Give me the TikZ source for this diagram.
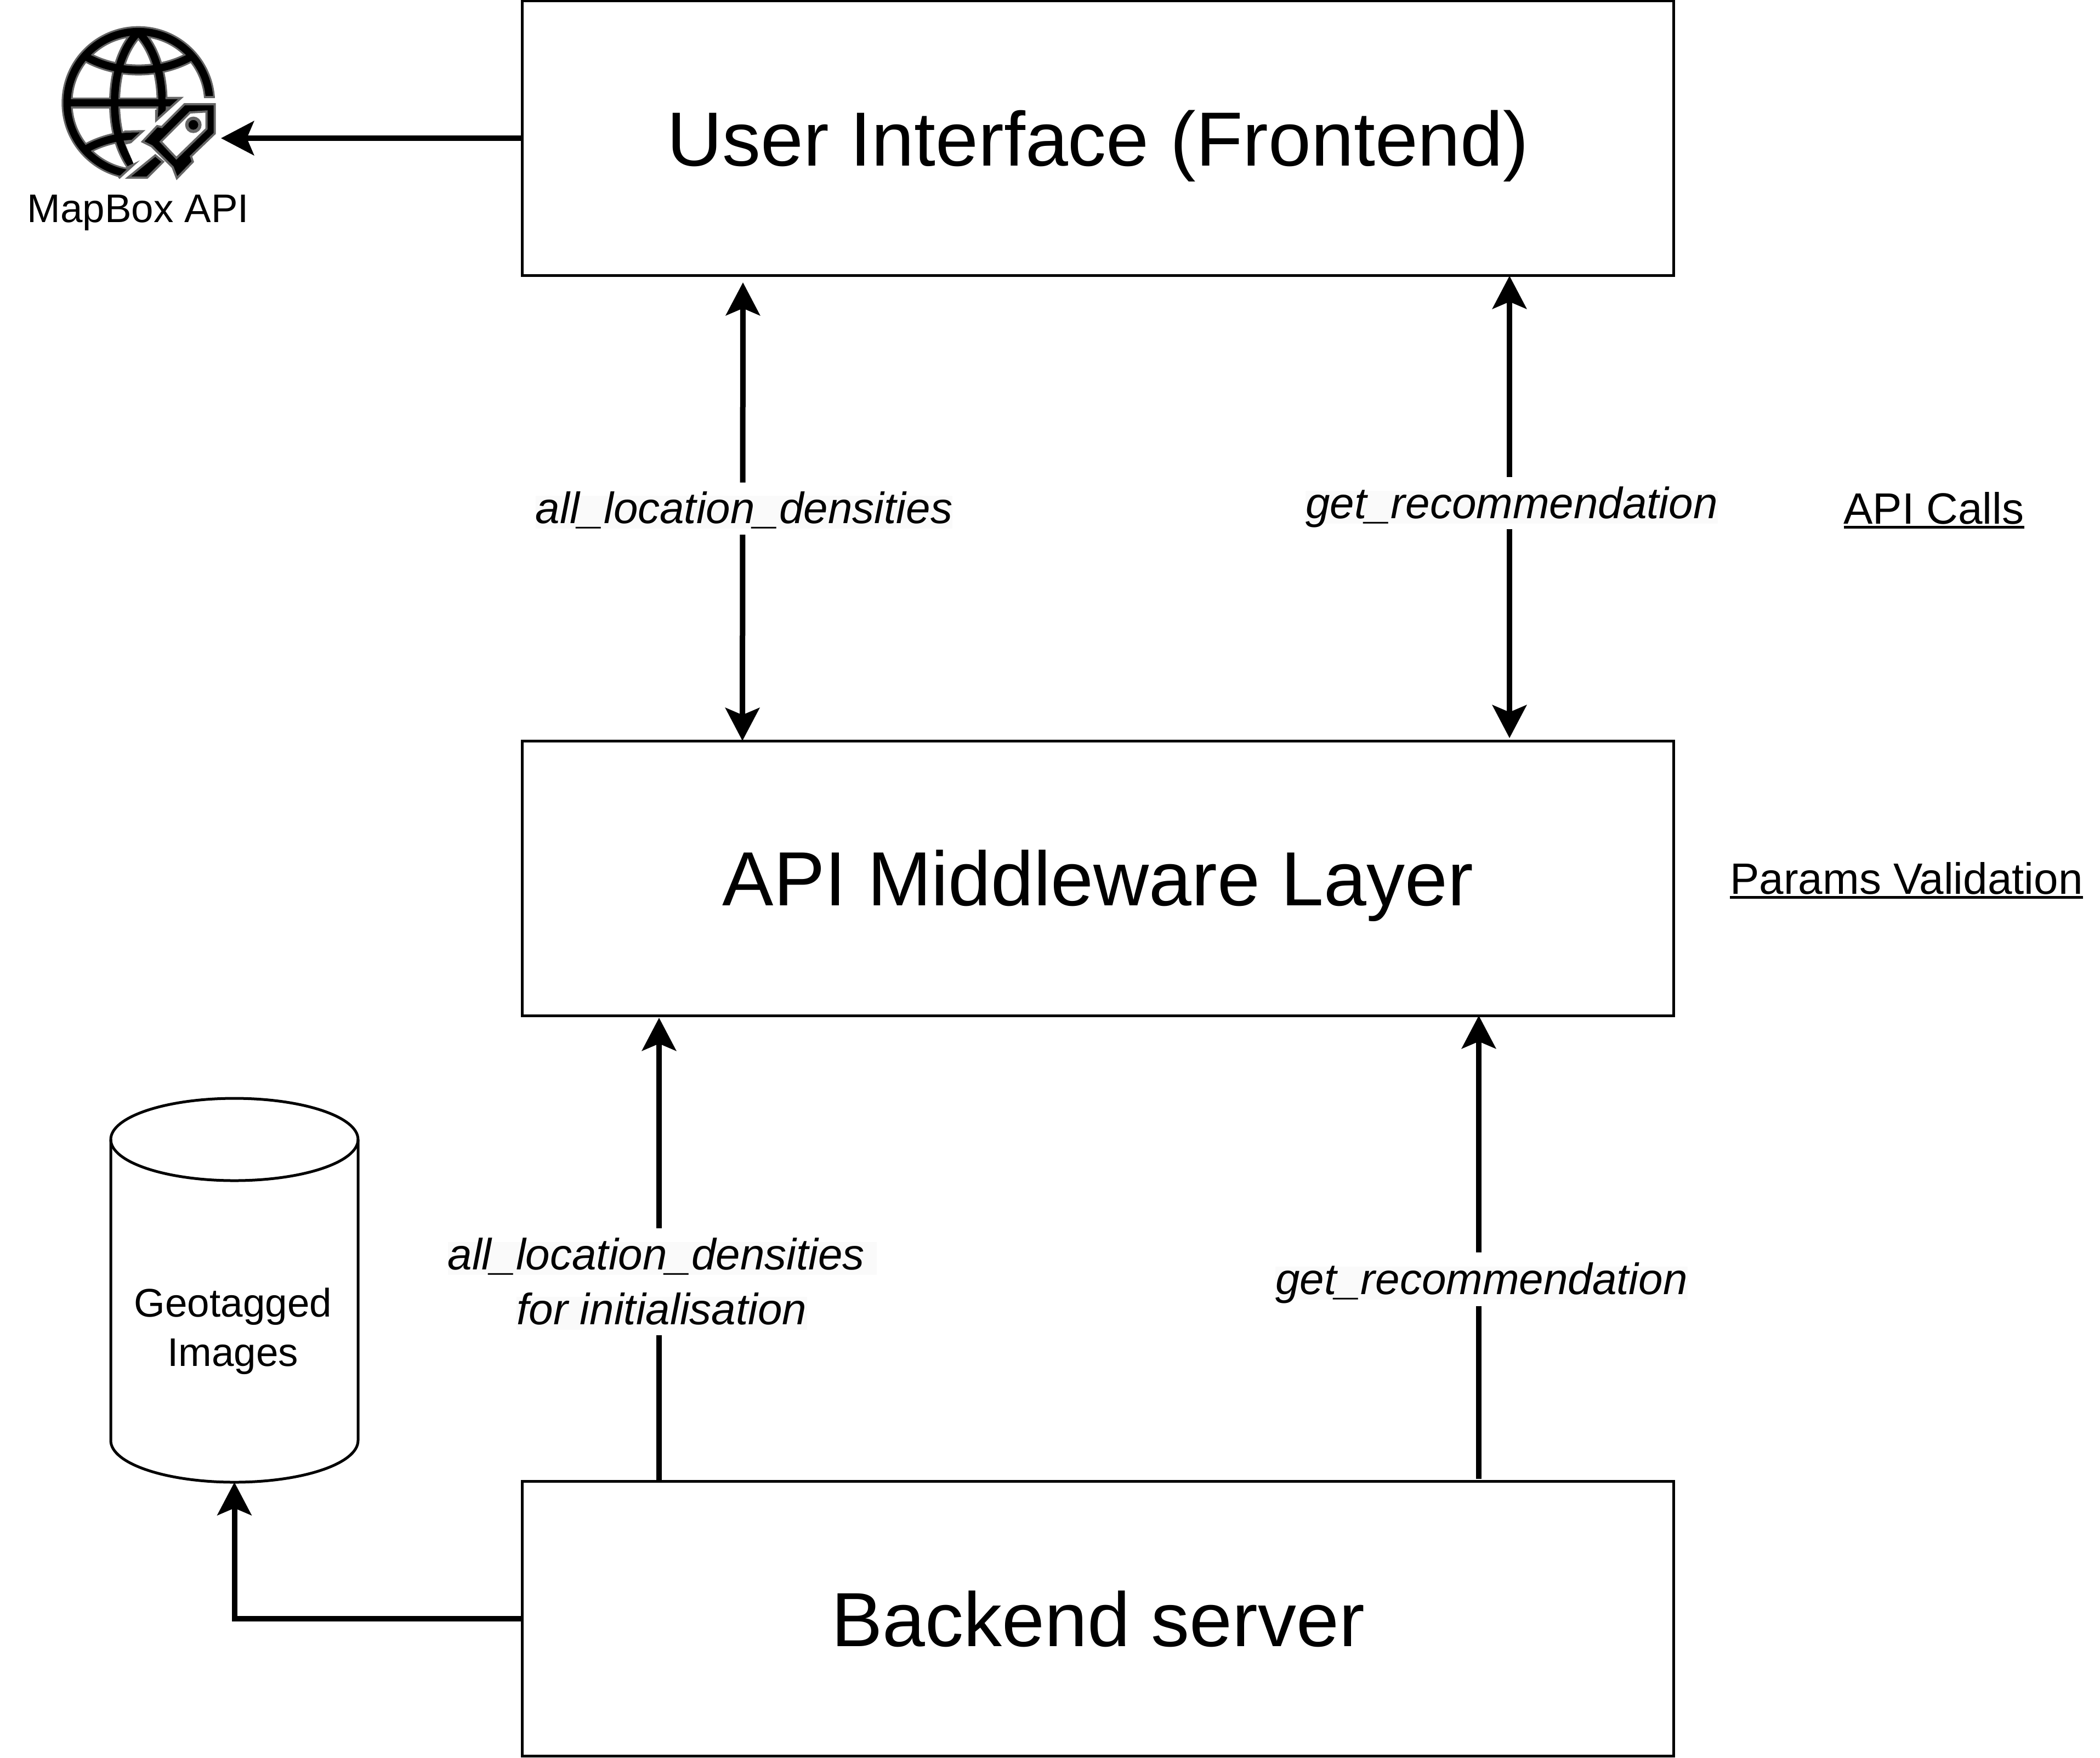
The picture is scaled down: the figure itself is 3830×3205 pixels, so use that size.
\documentclass[tikz,border=0pt]{standalone}
\usepackage{fontspec}
\setmainfont{Liberation Sans}
\usetikzlibrary{arrows.meta}
\definecolor{lblbg}{HTML}{FAFAFA}
\definecolor{icongray}{HTML}{666666}
\newsavebox{\ulsavebox}
\newcommand{\ulabel}[1]{\sbox{\ulsavebox}{#1}\rlap{\rule[-2.25pt]{\wd\ulsavebox}{1.25pt}}\usebox{\ulsavebox}}
\newcommand{\bgtext}[1]{{\setlength{\fboxsep}{0pt}\colorbox{lblbg}{\rule[-2.5pt]{0pt}{15pt}\smash{#1}}}}
\tikzset{
  layerbox/.style={draw=black,line width=1.25pt,fill=white,minimum width=525pt,minimum height=125.25pt,inner sep=0pt,text height=25pt,text depth=0pt,font=\fontsize{35}{40}\selectfont},
  conn/.style={line width=2.5pt,-{Stealth[length=15pt,width=15.5pt,inset=3.2pt]}},
  bothconn/.style={line width=2.5pt,{Stealth[length=15pt,width=15.5pt,inset=3.2pt]}-{Stealth[length=15pt,width=15.5pt,inset=3.2pt]}},
  edgelabel/.style={fill=white,inner sep=0pt,anchor=base,font=\fontsize{20}{25}\selectfont\itshape},
  sidelabel/.style={inner sep=0pt,anchor=base,font=\fontsize{20}{25}\selectfont},
  smalllabel/.style={inner sep=0pt,align=center,font=\fontsize{18.2}{22.5}\selectfont},
}
\begin{document}
\begin{tikzpicture}[x=0.25pt,y=-0.25pt]
\useasboundingbox (0,0) rectangle (3830,3205);
\node[layerbox] (ui) at (2002.5,252) {User Interface (Frontend)};
\node[layerbox] (mw) at (2002.5,1601.5) {API Middleware Layer};
\node[layerbox] (be) at (2002.5,2952) {Backend server};
% cylinder
\coordinate (cylbottom) at (427.5,2703);
\path[draw=black,line width=1.25pt,fill=white] (202,2078) -- (202,2627) arc[start angle=180,end angle=360,x radius=225.5,y radius=-76] -- (653,2078) arc[start angle=0,end angle=180,x radius=225.5,y radius=-75] -- cycle;
\path[draw=black,line width=1.25pt] (202,2078) arc[start angle=180,end angle=360,x radius=225.5,y radius=-75];
\node[smalllabel] (geo) at (425,2428) {Geotagged\\Images};
% icon
\begin{scope}[x=0.08333pt,y=-0.08333pt]
\begin{scope}
\clip (1200,20) -- (1200,534) -- (990,534) -- (855,655) -- (785,718) -- (715,778) -- (685,785) -- (732,900) -- (650,978) -- (250,1000) -- (250,20) -- cycle;
\foreach \col/\wid in {icongray/5pt,black/3.4pt}{
  \draw[\col,line width=\wid] (757,563) circle[radius=390];
  \draw[\col,line width=\wid] (370,563) -- (1000,563);
  \draw[\col,line width=\wid] (757,175) .. controls (860,280) and (887,440) .. (887,563) .. controls (887,690) and (860,840) .. (757,950);
  \draw[\col,line width=\wid] (757,175) .. controls (654,280) and (627,440) .. (627,563) .. controls (627,690) and (654,840) .. (757,950);
  \draw[\col,line width=\wid] (470,310) .. controls (640,407) and (875,407) .. (1045,310);
  \draw[\col,line width=\wid] (470,816) .. controls (640,719) and (875,719) .. (1045,816);
}
\end{scope}
\draw[icongray,line width=1pt] (1115,532) -- (1175,532);
\draw[icongray,line width=1pt] (905,536) -- (990,536) -- (855,658) -- (855,600);
\draw[icongray,line width=1pt] (680,720) -- (780,718) -- (715,778) -- (685,785);
\draw[icongray,line width=1pt] (690,920) -- (732,900) -- (650,975);
\draw[fill=black,draw=icongray,line width=1pt] (700,972) -- (850,850) -- (892,885) -- (805,972) -- cycle;
\draw[fill=black,draw=icongray,line width=1pt] (1175,570) -- (1010,570) -- (885,695) -- (860,690) -- (780,775) -- (830,800) -- (945,915) -- (968,975) -- (1055,885) -- (1045,855) -- (1175,730) -- cycle;
\draw[fill=white,draw=icongray,line width=1pt] (1130,610) -- (1040,615) -- (880,775) -- (965,865) -- (1130,705) -- cycle;
\draw[fill=black,draw=icongray,line width=1.5pt] (1058,683) circle[radius=36];
\end{scope}
\coordinate (icon) at (403,252);
\node[smalllabel,anchor=base] (mapbox) at (252,405) {MapBox API};
% side labels
\node[sidelabel] (apicalls) at (3527,955) {\ulabel{API Calls}};
\node[sidelabel] (params) at (3477,1630) {\ulabel{Params Validation}};
% connectors
\coordinate (a1) at (1355,515);
\coordinate (a2) at (1354,1351);
\coordinate (b1) at (2753,503);
\coordinate (b2) at (2753,1346);
\coordinate (c1) at (1202,2701);
\coordinate (c2) at (1202,1856);
\coordinate (d1) at (2697,2697);
\coordinate (d2) at (2697,1852);
\draw[conn] (ui.west) -- (icon);
\draw[bothconn] (a1) -- (a2);
\draw[bothconn] (b1) -- (b2);
\draw[conn] (c1) -- (c2);
\draw[conn] (d1) -- (d2);
\draw[conn] (be.west) -| (cylbottom);
% connector labels
\node[edgelabel,text height=18.5pt,text depth=5.25pt] (l1) at (1357,954) {\bgtext{all\_location\_densities}};
\node[edgelabel,text height=18.75pt,text depth=5pt] (l2) at (2757,945) {\bgtext{get\_recommendation}};
\node[edgelabel,text height=18.75pt,text depth=12.5pt] (l3a) at (1208,2315) {\bgtext{all\_location\_densities\ }};
\node[edgelabel,text height=12.5pt,text depth=5pt] (l3b) at (1207,2415) {\bgtext{for initialisation}};
\node[edgelabel,text height=19pt,text depth=5.5pt] (l4) at (2702,2360) {\bgtext{get\_recommendation}};
\end{tikzpicture}
\end{document}
